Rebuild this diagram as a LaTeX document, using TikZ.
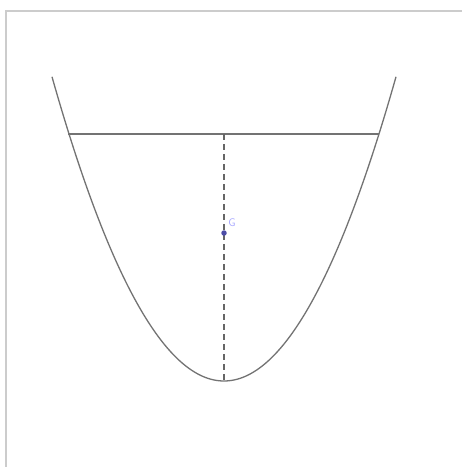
\documentclass[tikz,border=0pt]{standalone}
\begin{document}
\begin{tikzpicture}[x=1pt,y=-1pt,
  curve/.style={draw=black!55, line width=1.3pt},
  frame/.style={draw=black!20, line width=1.5pt},
  axis/.style={draw=black!60, line width=1.1pt, dash pattern=on 6pt off 4pt},
  pt/.style={circle, fill=blue!50!black!70, inner sep=0pt, minimum size=5.5pt},
  lbl/.style={text=blue!35, font=\sffamily\fontsize{11}{11}\selectfont, inner sep=0pt}]
\useasboundingbox (0,0) rectangle (462,467);
\fill[white] (0,0) rectangle (462,467);
\draw[frame] (6,467) -- (6,11) -- (462,11);
% parabola y = 381 - 0.01028 (x-224)^2
\draw[curve, domain=52:396, samples=120, smooth, variable=\t]
  plot ({\t}, {381 - 0.01028*(\t-224)*(\t-224)});
\coordinate (L) at (68,134);
\coordinate (R) at (379,134);
\coordinate (M) at (224,134);
\coordinate (V) at (224,381);
\draw[curve] (L) -- (R);
\draw[axis] (M) -- (V);
\node[pt] (G) at (224,233) {};
\node[lbl] (Glbl) at (232,223) {G};
\end{tikzpicture}
\end{document}
